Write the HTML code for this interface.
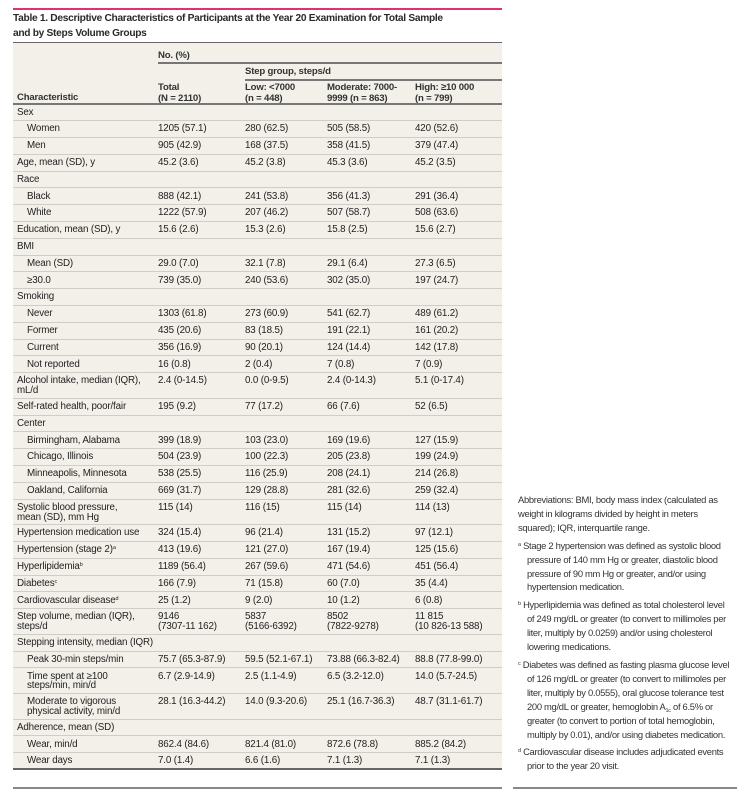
<!DOCTYPE html>
<html><head><meta charset="utf-8"><style>
*{margin:0;padding:0;box-sizing:border-box}
body{width:756px;height:793px;background:#fff;font-family:"Liberation Sans",sans-serif;color:#222;position:relative;overflow:hidden}
.a{position:absolute}
#pink{left:13px;top:8px;width:489px;height:2px;background:#e0336e}
#title{left:13px;top:11px;width:489px;font-weight:bold;font-size:10.2px;line-height:15px;color:#2a2a2a;letter-spacing:-0.3px;white-space:nowrap}
#tbl{left:13px;top:42px;width:489px;height:728px;background:#f2f0e9;border-top:1.5px solid #666;border-bottom:2px solid #666}
.h{font-weight:bold;font-size:9.6px;line-height:10.5px;position:absolute;color:#333;letter-spacing:-0.2px}
.hl{position:absolute;height:1.5px;background:#777}
.r{position:absolute;left:0;width:489px;border-bottom:1px solid #cfcdc6;font-size:9.8px;line-height:9.9px;letter-spacing:-0.15px}
.r span{position:absolute;top:3px}
.c0{left:4px}.c0i{left:14px}.c1{left:145px}.c2{left:232px}.c3{left:314px}.c4{left:402px}
sup{font-size:5.5px;vertical-align:3px;line-height:0}
.sb{font-size:5.5px;position:relative;top:2px;line-height:0}
#notes{left:518px;top:493px;width:230px;font-size:9.4px;line-height:13.9px;color:#333;letter-spacing:-0.3px;white-space:nowrap}
#notes p{margin-bottom:4px}
#notes .fn{padding-left:9px;text-indent:-9px}
#bl1{left:13px;top:787px;width:489px;height:2px;background:#888}
#bl2{left:513px;top:787px;width:224px;height:2px;background:#888}
</style></head><body>
<div id="pink" class="a"></div>
<div id="title" class="a">Table 1. Descriptive Characteristics of Participants at the Year 20 Examination for Total Sample<br>and by Steps Volume Groups</div>
<div id="tbl" class="a">
<div class="h" style="left:145px;top:8px">No. (%)</div>
<div class="hl" style="left:145px;top:19px;width:344px"></div>
<div class="h" style="left:232px;top:24px">Step group, steps/d</div>
<div class="hl" style="left:232px;top:36px;width:257px"></div>
<div class="h" style="left:4px;top:50px">Characteristic</div>
<div class="h" style="left:145px;top:40px">Total<br>(N = 2110)</div>
<div class="h" style="left:232px;top:40px">Low: &lt;7000<br>(n = 448)</div>
<div class="h" style="left:314px;top:40px">Moderate: 7000-<br>9999 (n = 863)</div>
<div class="h" style="left:402px;top:40px">High: ≥10 000<br>(n = 799)</div>
<div class="hl" style="left:0;top:60px;width:489px"></div>
<div id="rows"></div>
</div>
<div id="notes" class="a">
<p>Abbreviations: BMI, body mass index (calculated as<br>weight in kilograms divided by height in meters<br>squared); IQR, interquartile range.</p>
<p class="fn"><sup>a</sup> Stage 2 hypertension was defined as systolic blood<br>pressure of 140 mm Hg or greater, diastolic blood<br>pressure of 90 mm Hg or greater, and/or using<br>hypertension medication.</p>
<p class="fn"><sup>b</sup> Hyperlipidemia was defined as total cholesterol level<br>of 249 mg/dL or greater (to convert to millimoles per<br>liter, multiply by 0.0259) and/or using cholesterol<br>lowering medications.</p>
<p class="fn"><sup>c</sup> Diabetes was defined as fasting plasma glucose level<br>of 126 mg/dL or greater (to convert to millimoles per<br>liter, multiply by 0.0555), oral glucose tolerance test<br>200 mg/dL or greater, hemoglobin A<span class="sb">1c</span> of 6.5% or<br>greater (to convert to portion of total hemoglobin,<br>multiply by 0.01), and/or using diabetes medication.</p>
<p class="fn"><sup>d</sup> Cardiovascular disease includes adjudicated events<br>prior to the year 20 visit.</p>
</div>
<div id="bl1" class="a"></div>
<div id="bl2" class="a"></div>
<script>
var R=[
[0,"Sex"],[1,"Women","1205 (57.1)","280 (62.5)","505 (58.5)","420 (52.6)"],[1,"Men","905 (42.9)","168 (37.5)","358 (41.5)","379 (47.4)"],
[0,"Age, mean (SD), y","45.2 (3.6)","45.2 (3.8)","45.3 (3.6)","45.2 (3.5)"],[0,"Race"],
[1,"Black","888 (42.1)","241 (53.8)","356 (41.3)","291 (36.4)"],[1,"White","1222 (57.9)","207 (46.2)","507 (58.7)","508 (63.6)"],
[0,"Education, mean (SD), y","15.6 (2.6)","15.3 (2.6)","15.8 (2.5)","15.6 (2.7)"],[0,"BMI"],
[1,"Mean (SD)","29.0 (7.0)","32.1 (7.8)","29.1 (6.4)","27.3 (6.5)"],[1,"≥30.0","739 (35.0)","240 (53.6)","302 (35.0)","197 (24.7)"],
[0,"Smoking"],[1,"Never","1303 (61.8)","273 (60.9)","541 (62.7)","489 (61.2)"],[1,"Former","435 (20.6)","83 (18.5)","191 (22.1)","161 (20.2)"],
[1,"Current","356 (16.9)","90 (20.1)","124 (14.4)","142 (17.8)"],[1,"Not reported","16 (0.8)","2 (0.4)","7 (0.8)","7 (0.9)"],
[0,"Alcohol intake, median (IQR),<br>mL/d","2.4 (0-14.5)","0.0 (0-9.5)","2.4 (0-14.3)","5.1 (0-17.4)",1],
[0,"Self-rated health, poor/fair","195 (9.2)","77 (17.2)","66 (7.6)","52 (6.5)"],[0,"Center"],
[1,"Birmingham, Alabama","399 (18.9)","103 (23.0)","169 (19.6)","127 (15.9)"],[1,"Chicago, Illinois","504 (23.9)","100 (22.3)","205 (23.8)","199 (24.9)"],
[1,"Minneapolis, Minnesota","538 (25.5)","116 (25.9)","208 (24.1)","214 (26.8)"],[1,"Oakland, California","669 (31.7)","129 (28.8)","281 (32.6)","259 (32.4)"],
[0,"Systolic blood pressure,<br>mean (SD), mm Hg","115 (14)","116 (15)","115 (14)","114 (13)",1],
[0,"Hypertension medication use","324 (15.4)","96 (21.4)","131 (15.2)","97 (12.1)"],
[0,"Hypertension (stage 2)<sup>a</sup>","413 (19.6)","121 (27.0)","167 (19.4)","125 (15.6)"],
[0,"Hyperlipidemia<sup>b</sup>","1189 (56.4)","267 (59.6)","471 (54.6)","451 (56.4)"],
[0,"Diabetes<sup>c</sup>","166 (7.9)","71 (15.8)","60 (7.0)","35 (4.4)"],
[0,"Cardiovascular disease<sup>d</sup>","25 (1.2)","9 (2.0)","10 (1.2)","6 (0.8)"],
[0,"Step volume, median (IQR),<br>steps/d","9146<br>(7307-11 162)","5837<br>(5166-6392)","8502<br>(7822-9278)","11 815<br>(10 826-13 588)",1],
[0,"Stepping intensity, median (IQR)"],
[1,"Peak 30-min steps/min","75.7 (65.3-87.9)","59.5 (52.1-67.1)","73.88 (66.3-82.4)","88.8 (77.8-99.0)"],
[1,"Time spent at ≥100<br>steps/min, min/d","6.7 (2.9-14.9)","2.5 (1.1-4.9)","6.5 (3.2-12.0)","14.0 (5.7-24.5)",1],
[1,"Moderate to vigorous<br>physical activity, min/d","28.1 (16.3-44.2)","14.0 (9.3-20.6)","25.1 (16.7-36.3)","48.7 (31.1-61.7)",1],
[0,"Adherence, mean (SD)"],[1,"Wear, min/d","862.4 (84.6)","821.4 (81.0)","872.6 (78.8)","885.2 (84.2)"],
[1,"Wear days","7.0 (1.4)","6.6 (1.6)","7.1 (1.3)","7.1 (1.3)"]];
var y=61.5,h="";
R.forEach(function(r,i){var H=r[6]?25.6:16.8;if(i==R.length-1)H=14;
h+='<div class="r" style="top:'+y+'px;height:'+H+'px;'+(i==R.length-1?'border-bottom:none':'')+'"><span class="'+(r[0]?'c0i':'c0')+'">'+r[1]+'</span>';
for(var k=2;k<6;k++)if(r[k])h+='<span class="c'+(k-1)+'">'+r[k]+'</span>';
h+='</div>';y+=H;});
document.getElementById('rows').outerHTML=h;
</script>
</body></html>
